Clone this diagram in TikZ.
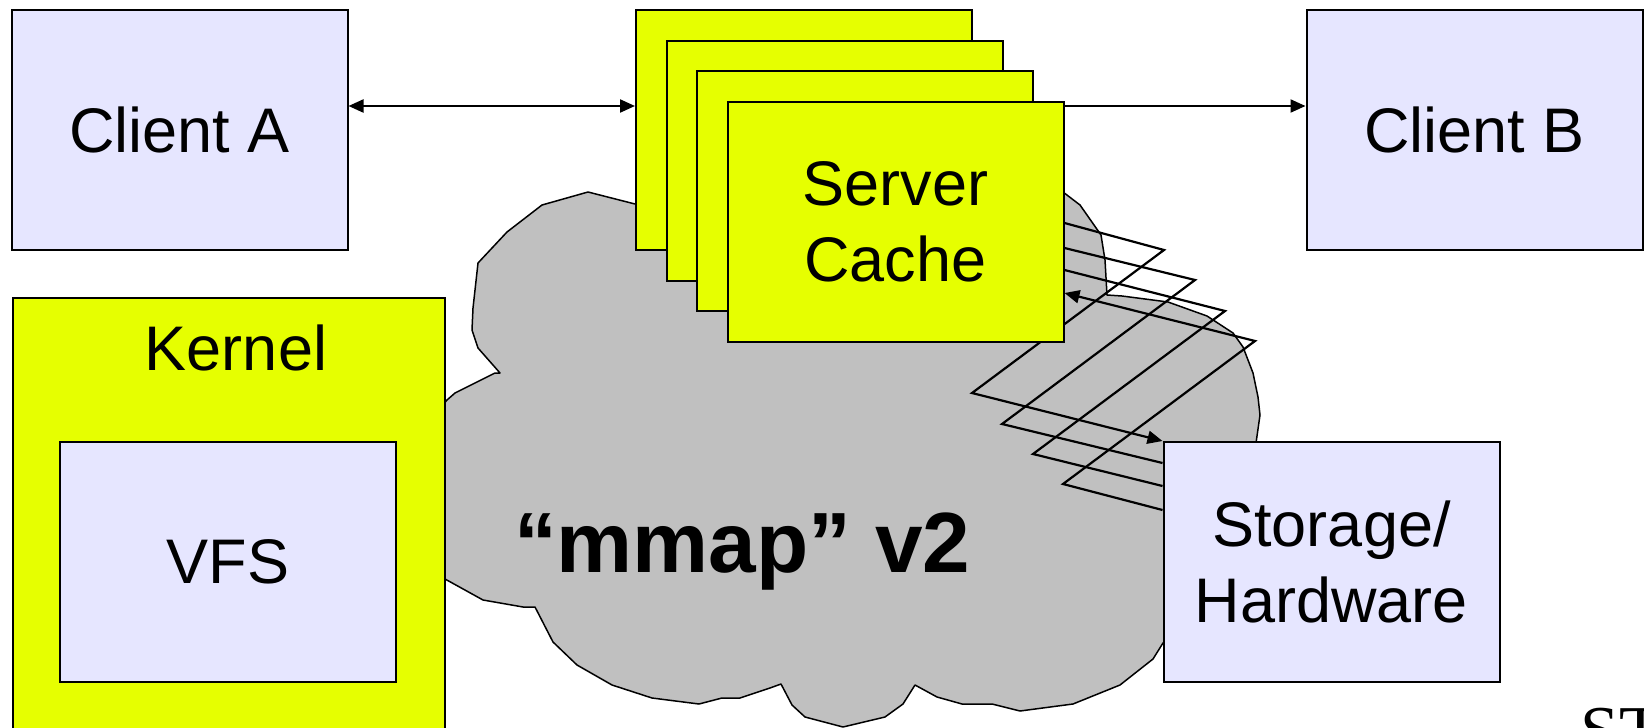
\documentclass[tikz,border=0pt]{standalone}
\usepackage{fontspec}
\setmainfont{Liberation Sans}
\newfontfamily\stfont{Liberation Serif}
\usetikzlibrary{arrows.meta}
\definecolor{cacheyellow}{RGB}{230,255,0}
\definecolor{lavender}{RGB}{230,230,255}
\definecolor{cloudgray}{RGB}{192,192,192}
\pgfdeclarelayer{cloudlayer}
\pgfdeclarelayer{wirelayer}
\pgfsetlayers{cloudlayer,wirelayer,main}
\begin{document}
\begin{tikzpicture}[x=1pt,y=-1pt,
  box/.style={draw, line width=2pt, minimum width=336pt, minimum height=240pt,
    inner sep=0pt, font=\fontsize{63}{76}\selectfont, align=center},
  lavbox/.style={box, fill=lavender},
  ylwbox/.style={box, fill=cacheyellow},
  label/.style={inner sep=0pt, font=\fontsize{63}{76}\selectfont},
  wire/.style={line width=2.2pt, line join=miter},
  link/.style={line width=2.2pt, -{Triangle[length=15pt,width=13pt]}},
  dlink/.style={line width=2.2pt, {Triangle[length=15pt,width=13pt]}-{Triangle[length=15pt,width=13pt]}}]
\useasboundingbox (0,0) rectangle (1644,728);
\clip (0,0) rectangle (1644,728);

% clients
\node[lavbox] (clientA) at (179.5,130) {Client A};
\node[lavbox] (clientB) at (1474.5,130) {Client B};

% stacked server caches
\node[ylwbox] (srv1) at (804,130) {};
\node[ylwbox] (srv2) at (834.5,160.5) {};
\node[ylwbox] (srv3) at (865,190.5) {};
\node[ylwbox] (srv4) at (895.5,221.5) {Server\\Cache};

% kernel with VFS
\node[ylwbox, minimum width=432pt, minimum height=480pt, anchor=north west] (kernel) at (12,297) {};
\node[label, anchor=base] (kernellbl) at (236,370) {Kernel};
\node[lavbox] (vfs) at (228,562) {VFS};

% storage
\node[lavbox] (storage) at (1331.5,562) {Storage/\\Hardware};

% cloud
\begin{pgfonlayer}{cloudlayer}
\draw[fill=cloudgray, line width=1.5pt, line join=round]
  (588,192) -- (635,204) -- (700,190) -- (900,170) -- (1000,175) -- (1063,192)
  -- (1080,205) -- (1101,235) -- (1105,260) -- (1107,295) -- (1122,296)
  -- (1168,302) -- (1207,316) -- (1233,333) -- (1243,347) -- (1253,373)
  -- (1258,397) -- (1260,415) -- (1256,443) -- (1250,520) -- (1200,620)
  -- (1168,640) -- (1163,643) -- (1153,659) -- (1120,685) -- (1073,704)
  -- (1020,711) -- (992,704) -- (962,704) -- (937,697) -- (915,685)
  -- (903,704) -- (885,717) -- (843,727) -- (805,717) -- (792,705)
  -- (781,684) -- (770,688) -- (740,698) -- (722,698) -- (699,704)
  -- (652,698) -- (612,685) -- (577,665) -- (553,642) -- (535,607)
  -- (523,607) -- (483,600) -- (445,579) -- (430,560) -- (430,420)
  -- (447,400) -- (455,393) -- (495,373) -- (500,373) -- (478,348)
  -- (472,330) -- (473,308) -- (478,263) -- (507,232) -- (542,205) -- cycle;
\end{pgfonlayer}

% connector heights and bends
\coordinate (top) at (0,106);
\coordinate (h1) at (0,223);
\coordinate (h2) at (0,248);
\coordinate (h3) at (0,270);
\coordinate (h4) at (0,293);
\coordinate (s2) at (0,463);
\coordinate (s3) at (0,486);
\coordinate (s4) at (0,510);
\coordinate (a1) at (1164,250);
\coordinate (b1) at (972,393);
\coordinate (a2) at (1195,280);
\coordinate (b2) at (1002,424);
\coordinate (a3) at (1225,311);
\coordinate (b3) at (1033,454);
\coordinate (b4) at (1063,484);
\coordinate (a4) at (1255,341);

% client links
\draw[dlink] (clientA.east |- top) -- (srv1.west |- top);
\draw[link] (srv4.east |- top) -- (clientB.west |- top);

% zigzag transfers between cache and storage
\begin{pgfonlayer}{wirelayer}
\draw[link, line join=miter] (srv4.east |- h1) -- (a1) -- (b1) -- (storage.north west);
\draw[wire] (srv4.east |- h2) -- (a2) -- (b2) -- (storage.west |- s2);
\draw[wire] (srv4.east |- h3) -- (a3) -- (b3) -- (storage.west |- s3);
\draw[link, line join=miter] (storage.west |- s4) -- (b4) -- (a4) -- (srv4.east |- h4);
\end{pgfonlayer}

% cloud caption
\node[inner sep=0pt, anchor=base west, font=\bfseries\fontsize{85.5}{100}\selectfont] (mmap) at (514,572) {“mmap” v2};

% corner text
\node[inner sep=0pt, anchor=base west, font=\stfont\fontsize{70}{84}\selectfont] (st) at (1580,754) {ST};
\end{tikzpicture}
\end{document}
